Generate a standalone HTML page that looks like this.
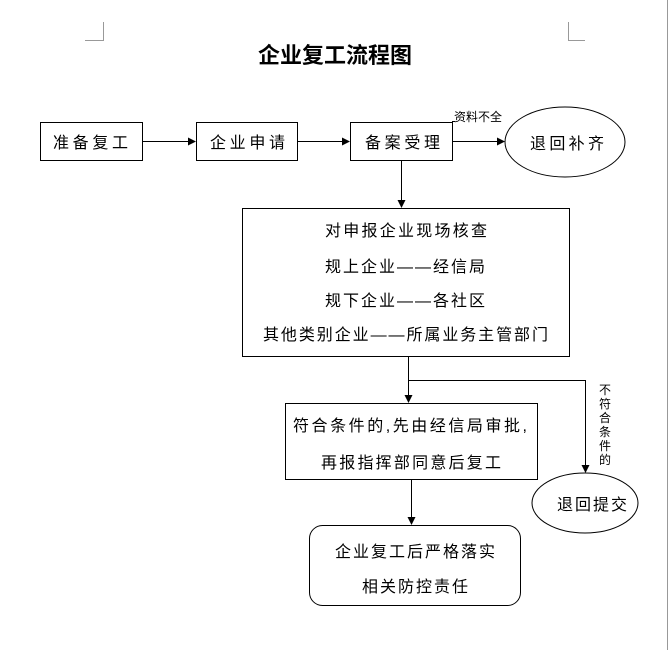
<!DOCTYPE html>
<html><head><meta charset="utf-8"><style>
body{margin:0;background:#fff;}
svg text{font-family:"Liberation Sans","Noto Sans CJK SC",sans-serif;fill:#000;}
</style></head><body>
<svg width="669" height="650" viewBox="0 0 669 650" xmlns="http://www.w3.org/2000/svg">
<defs><marker id="a" markerWidth="8" markerHeight="8" refX="7" refY="4" orient="auto" markerUnits="userSpaceOnUse"><path d="M0,0 L8,4 L0,8 z" fill="#000"/></marker></defs>
<g stroke="#999" fill="none" stroke-width="1">
<path d="M85 40.5 H103.5 V22"/><path d="M585 40.5 H568.5 V22"/>
<path d="M667.5 0 V650"/>
</g>
<text x="335" y="63" font-size="22" text-anchor="middle" font-weight="bold">企业复工流程图</text>
<g stroke="#000" fill="#fff" stroke-width="1">
<rect x="40.5" y="122.5" width="102" height="38"/>
<rect x="196.5" y="122.5" width="101" height="38"/>
<rect x="350.5" y="122.5" width="102" height="38"/>
<path d="M452 121.5 H455" />
<ellipse cx="565" cy="142" rx="60" ry="35"/>
<rect x="242.5" y="208.5" width="327" height="148"/>
<rect x="285.5" y="403.5" width="252" height="76"/>
<ellipse cx="585" cy="503" rx="53" ry="30"/>
<rect x="309.5" y="525.5" width="211" height="80" rx="13"/>
</g>
<g stroke="#000" stroke-width="1" fill="none">
<path d="M142 141.5 H195" marker-end="url(#a)"/>
<path d="M297 141.5 H349" marker-end="url(#a)"/>
<path d="M452 141.5 H504" marker-end="url(#a)"/>
<path d="M401.5 160 V207" marker-end="url(#a)"/>
<path d="M408.5 356 V402" marker-end="url(#a)"/>
<path d="M408 380.5 H585.5 V472" marker-end="url(#a)"/>
<path d="M411.5 479 V524" marker-end="url(#a)"/>
</g>
<g font-size="16">
<text x="53" y="148" textLength="75" lengthAdjust="spacing">准备复工</text>
<text x="210" y="148" textLength="75" lengthAdjust="spacing">企业申请</text>
<text x="365" y="148" textLength="75" lengthAdjust="spacing">备案受理</text>
<text x="530" y="149" textLength="74" lengthAdjust="spacing">退回补齐</text>
<text x="325" y="236" textLength="162" lengthAdjust="spacing">对申报企业现场核查</text>
<text x="325" y="272" textLength="160" lengthAdjust="spacing">规上企业——经信局</text>
<text x="325" y="306" textLength="160" lengthAdjust="spacing">规下企业——各社区</text>
<text x="263" y="340" textLength="285" lengthAdjust="spacing">其他类别企业——所属业务主管部门</text>
<text x="293" y="431" textLength="234" lengthAdjust="spacing">符合条件的,先由经信局审批,</text>
<text x="321" y="468" textLength="180" lengthAdjust="spacing">再报指挥部同意后复工</text>
<text x="557" y="510" textLength="70" lengthAdjust="spacing">退回提交</text>
<text x="335" y="557" textLength="160" lengthAdjust="spacing">企业复工后严格落实</text>
<text x="362" y="592" textLength="106" lengthAdjust="spacing">相关防控责任</text>
</g>
<text x="478" y="121" font-size="12" text-anchor="middle">资料不全</text>
<g font-size="12" text-anchor="middle">
<text x="605" y="394">不</text><text x="605" y="408">符</text><text x="605" y="422">合</text><text x="605" y="436">条</text><text x="605" y="450">件</text><text x="605" y="464">的</text>
</g>
</svg>
</body></html>
